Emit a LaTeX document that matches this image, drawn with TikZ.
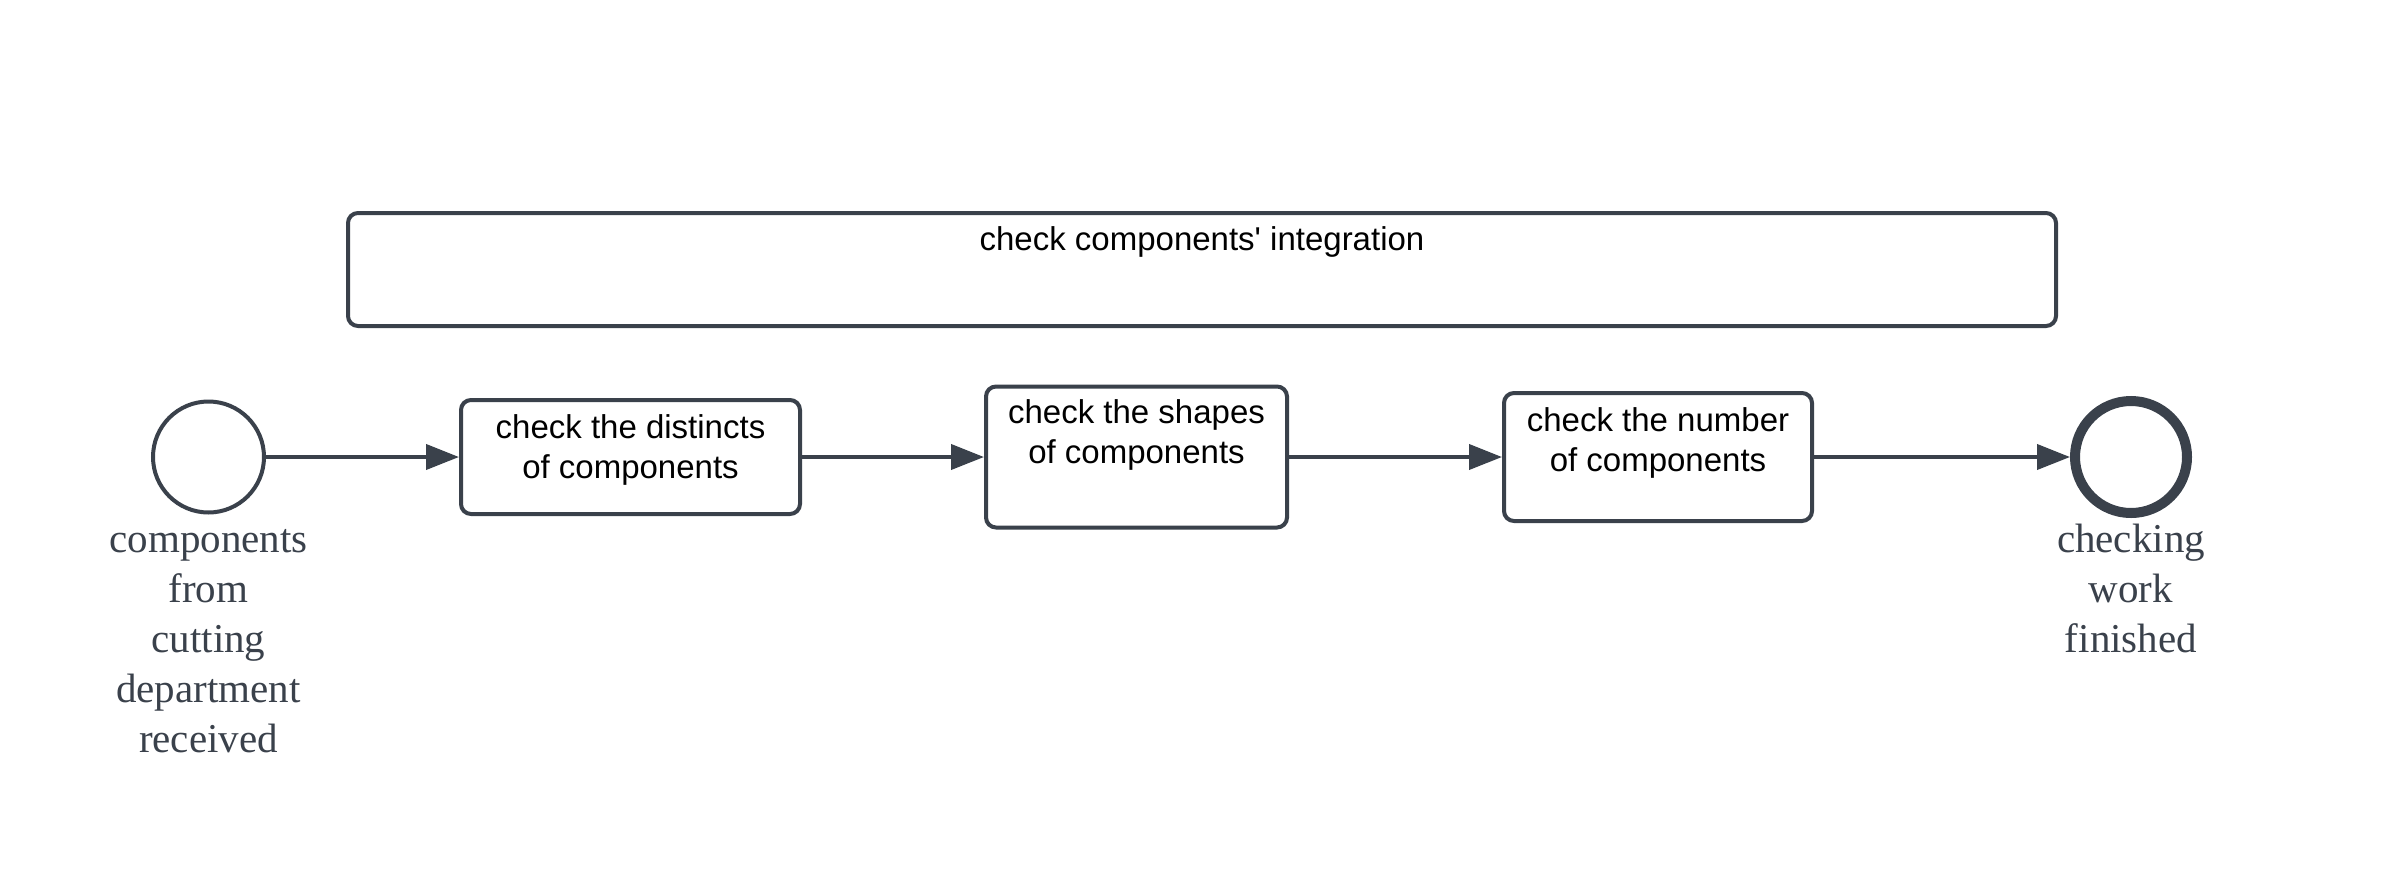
\documentclass[tikz,border=0pt]{standalone}
\usepackage{fontspec}
\setmainfont{Liberation Serif}
\newfontfamily\boxfont{Liberation Sans}
\usetikzlibrary{arrows.meta}
\definecolor{ink}{HTML}{3A414B}
\begin{document}
\begin{tikzpicture}[x=1pt,y=-1pt,
  task/.style={draw=ink, line width=4pt, rounded corners=10pt, fill=white,
    inner sep=0pt, align=center, text=black,
    font=\boxfont\fontsize{33}{40}\selectfont},
  event/.style={circle, draw=ink, inner sep=0pt, fill=white},
  flow/.style={draw=ink, line width=4pt, -{Triangle[length=33pt,width=25pt]}},
  evlabel/.style={font=\fontsize{41}{50}\selectfont, text=ink, align=center, inner sep=0pt}]
\useasboundingbox[fill=white] (0,0) rectangle (2404,889);

\node[task, minimum width=1708pt, text height=37pt, text depth=76pt] (sub) at (1202,269.5) {check components' integration};

\node[event, line width=4pt, minimum size=111pt] (start) at (208.5,457) {};
\node[evlabel, anchor=base] (startlbl) at (208.5,752) {components\\from\\cutting\\department\\received};

\node[task, minimum width=339pt, text height=78pt, text depth=36pt] (t1) at (630.5,457) {check the distincts\\of components};
\node[task, minimum width=301pt, text height=77pt, text depth=64pt] (t2) at (1136.5,457) {check the shapes\\of components};
\node[task, minimum width=308pt, text height=78pt, text depth=50pt] (t3) at (1658,457) {check the number\\of components};

\node[event, line width=10pt, minimum size=112pt] (end) at (2131,457) {};
\node[evlabel, anchor=base] (endlbl) at (2131,652) {checking\\work\\finished};

\draw[flow] (start) -- (t1);
\draw[flow] (t1) -- (t2);
\draw[flow] (t2) -- (t3);
\draw[flow] (t3) -- (end);
\end{tikzpicture}
\end{document}
